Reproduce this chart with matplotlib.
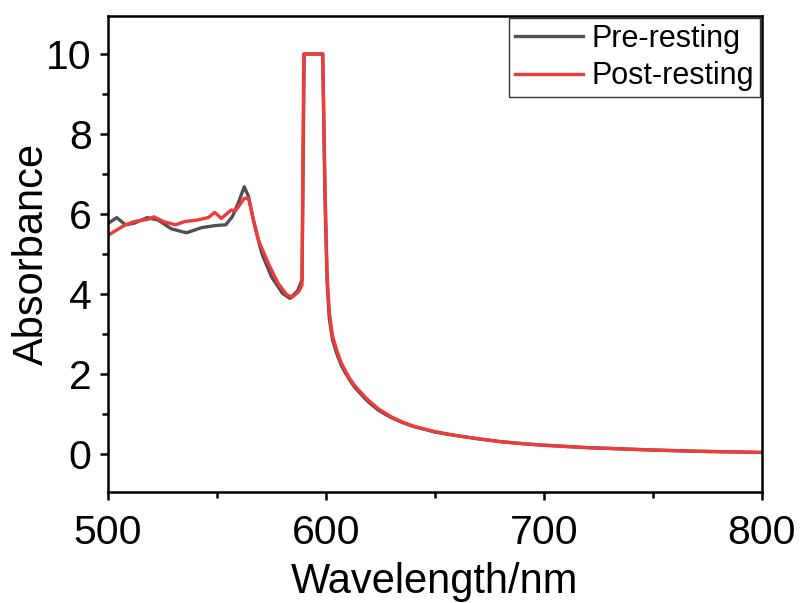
import matplotlib
matplotlib.use("Agg")
import matplotlib.pyplot as plt
from matplotlib.ticker import MultipleLocator

plt.rcParams['font.family'] = ['Liberation Sans', 'DejaVu Sans']

# Absorption spectra before and after resting
pre_wl = [500, 501, 504, 508, 512, 518, 523, 529, 536, 543, 549, 554, 557, 560,
          562.5, 564.5, 567, 570.5, 575, 580, 583.5, 587, 589, 590, 598.5, 599.5,
          600.5, 601.5, 603, 605, 607, 609, 611, 613, 615, 618, 621, 624, 627, 630,
          635, 640, 645, 650, 655, 660, 670, 680, 690, 700, 710, 720, 730, 740,
          750, 760, 770, 780, 790, 800]
pre_abs = [5.77, 5.8, 5.91, 5.73, 5.77, 5.91, 5.85, 5.63, 5.53, 5.66, 5.71, 5.73,
           5.93, 6.31, 6.68, 6.43, 5.77, 5.02, 4.43, 4.02, 3.89, 4.08, 4.35, 10.0,
           10.0, 6.5, 4.3, 3.4, 2.85, 2.5, 2.22, 2.02, 1.84, 1.68, 1.56, 1.38, 1.23,
           1.1, 1.0, 0.91, 0.79, 0.69, 0.62, 0.55, 0.5, 0.46, 0.38, 0.31, 0.26, 0.22,
           0.19, 0.16, 0.14, 0.12, 0.1, 0.085, 0.07, 0.06, 0.05, 0.04]

post_wl = [500, 504, 508, 512, 518.5, 521, 525.5, 531, 535, 541, 546, 549, 552,
           556.5, 558.5, 562.5, 564.5, 566, 569, 573.5, 578, 582, 584.5, 587.5,
           589, 589.8, 598.5, 599.5, 600.5, 601.5, 603, 605, 607, 609, 611, 613,
           615, 618, 621, 624, 627, 630, 635, 640, 645, 650, 655, 660, 670, 680,
           690, 700, 710, 720, 730, 740, 750, 760, 770, 780, 790, 800]
post_abs = [5.47, 5.6, 5.73, 5.81, 5.87, 5.93, 5.81, 5.73, 5.81, 5.85, 5.91, 6.04,
            5.89, 6.1, 6.08, 6.39, 6.39, 6.02, 5.35, 4.77, 4.27, 3.98, 3.92, 4.06,
            4.23, 10.0, 10.0, 6.8, 4.5, 3.55, 2.95, 2.58, 2.28, 2.07, 1.88, 1.72,
            1.6, 1.42, 1.27, 1.13, 1.03, 0.93, 0.8, 0.7, 0.63, 0.56, 0.51, 0.46,
            0.38, 0.31, 0.26, 0.22, 0.19, 0.16, 0.14, 0.12, 0.1, 0.085, 0.07, 0.06,
            0.05, 0.04]

series_labels = ["Pre-resting", "Post-resting"]
x_ticks = [500, 600, 700, 800]
y_ticks = [0, 2, 4, 6, 8, 10]

fig = plt.figure(figsize=(8.02, 6.03), dpi=100)
ax = fig.add_axes([0.1347, 0.184, 0.8153, 0.7895])

ax.plot(pre_wl, pre_abs, color='#505050', lw=2.4, label=series_labels[0],
        solid_joinstyle='round')
ax.plot(post_wl, post_abs, color='#ef3b3b', lw=2.4, label=series_labels[1],
        solid_joinstyle='round')

ax.set_xlim(500, 800)
ax.set_ylim(-0.95, 10.95)
ax.set_xticks(x_ticks)
ax.set_yticks(y_ticks)
ax.xaxis.set_minor_locator(MultipleLocator(50))
ax.yaxis.set_minor_locator(MultipleLocator(1))

for s in ax.spines.values():
    s.set_linewidth(1.8)
ax.tick_params(which='both', direction='out', top=False, right=False, width=1.8)
ax.tick_params(which='major', length=5.8, labelsize=29.5)
ax.tick_params(axis='x', which='major', pad=10)
ax.tick_params(axis='y', which='major', pad=6)
ax.tick_params(which='minor', length=4)

ax.set_xlabel("Wavelength/nm", fontsize=30, labelpad=7)
ax.set_ylabel("Absorbance", fontsize=30, labelpad=-4)

leg = ax.legend(loc='upper right', bbox_to_anchor=(1.0, 1.0), borderaxespad=0.05,
                fontsize=22, frameon=True, fancybox=False, handlelength=2.2,
                handletextpad=0.3, labelspacing=0.25, borderpad=0.2)
leg.get_frame().set_edgecolor('black')
leg.get_frame().set_linewidth(1.0)

fig.savefig("out.png", dpi=100)
